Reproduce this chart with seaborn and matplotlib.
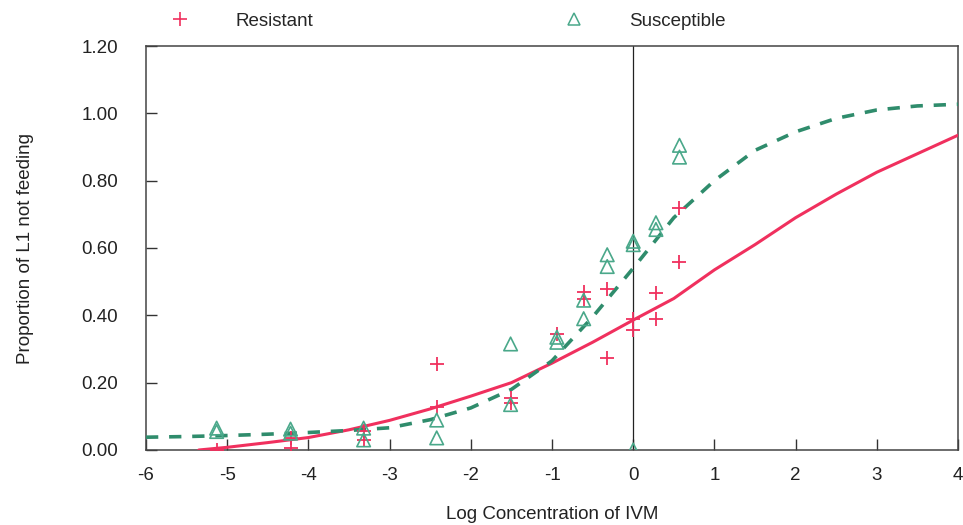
import matplotlib
matplotlib.use("Agg")
import matplotlib.pyplot as plt
from matplotlib.lines import Line2D
from matplotlib.ticker import FormatStrFormatter
import seaborn as sns

# Observed data: Resistant
res_x = [-5.13, -4.22, -4.22, -3.32, -3.32, -2.42, -2.42, -1.51, -1.51, -0.94,
         -0.61, -0.61, -0.32, -0.32, 0.0, 0.0, 0.28, 0.28, 0.57, 0.57]
res_y = [0.00, 0.035, 0.005, 0.03, 0.055, 0.255, 0.128, 0.155, 0.14, 0.345,
         0.47, 0.45, 0.478, 0.273, 0.389, 0.356, 0.467, 0.39, 0.72, 0.559]

# Observed data: Susceptible
sus_x = [-5.13, -5.13, -4.22, -4.22, -3.32, -3.32, -2.42, -2.42, -1.51, -1.51,
         -0.94, -0.94, -0.61, -0.61, -0.32, -0.32, 0.0, 0.0, 0.0, 0.28, 0.28, 0.57, 0.57]
sus_y = [0.065, 0.055, 0.062, 0.05, 0.065, 0.03, 0.089, 0.036, 0.315, 0.135,
         0.335, 0.32, 0.445, 0.39, 0.58, 0.545, 0.62, 0.61, 0.0, 0.675, 0.655, 0.905, 0.87]

# Fitted curves
res_fit_x = [-5.35, -5.0, -4.5, -4.0, -3.5, -3.0, -2.5, -2.0, -1.5, -1.0, -0.5,
             0.0, 0.5, 1.0, 1.5, 2.0, 2.5, 3.0, 3.5, 4.0]
res_fit_y = [0.0, 0.008, 0.022, 0.037, 0.06, 0.088, 0.122, 0.16, 0.2, 0.258, 0.32,
             0.386, 0.45, 0.535, 0.61, 0.69, 0.76, 0.825, 0.88, 0.935]
sus_fit_x = [-6.0, -5.5, -5.0, -4.5, -4.0, -3.5, -3.0, -2.5, -2.0, -1.5, -1.0,
             -0.5, 0.0, 0.5, 1.0, 1.5, 2.0, 2.5, 3.0, 3.5, 4.0]
sus_fit_y = [0.038, 0.04, 0.043, 0.047, 0.052, 0.058, 0.066, 0.09, 0.125, 0.18,
             0.265, 0.395, 0.54, 0.69, 0.80, 0.89, 0.945, 0.985, 1.01, 1.022, 1.027]

x_ticks = [-6, -5, -4, -3, -2, -1, 0, 1, 2, 3, 4]
y_ticks = [0.0, 0.2, 0.4, 0.6, 0.8, 1.0, 1.2]

RED = "#f0305e"
GREEN = "#2f8c6c"
GREEN_M = "#4aa88a"
FS = 13.5

sns.set_theme(style="white")
plt.rcParams["font.family"] = ["Liberation Sans", "DejaVu Sans"]
plt.rcParams["axes.unicode_minus"] = False

fig = plt.figure(figsize=(9.63, 5.25), dpi=100)
ax = fig.add_axes([146 / 963, 75 / 525, (958 - 146) / 963, (450 - 46) / 525])

ax.axvline(0, color="#222222", lw=0.9, zorder=1)

sns.lineplot(x=res_fit_x, y=res_fit_y, ax=ax, color=RED, lw=2.2, sort=False,
             errorbar=None, zorder=3)
sns.lineplot(x=sus_fit_x, y=sus_fit_y, ax=ax, color=GREEN, lw=2.6, sort=False,
             errorbar=None, zorder=3)
ax.lines[-1].set_dashes([3.4, 3.0])

ax.scatter(res_x, res_y, marker="+", s=110, color=RED, linewidths=1.3, zorder=4)
ax.scatter(sus_x, sus_y, marker="^", s=95, facecolors="none", edgecolors=GREEN_M,
           linewidths=1.2, zorder=4)

ax.set_xlim(-6, 4)
ax.set_ylim(0, 1.2)
ax.set_xticks(x_ticks)
ax.set_yticks(y_ticks)
ax.yaxis.set_major_formatter(FormatStrFormatter("%.2f"))
ax.tick_params(axis="both", which="major", bottom=True, left=True, top=False, right=False,
               direction="in", length=8, width=1, color="#333333",
               labelsize=FS, labelcolor="#222222")
ax.tick_params(axis="y", pad=20)
ax.tick_params(axis="x", pad=12)
for s in ax.spines.values():
    s.set_color("#444444")
    s.set_linewidth(1.1)

ax.set_xlabel("Log Concentration of IVM", fontsize=FS, color="#222222", labelpad=16)
ax.set_ylabel("Proportion of L1 not feeding", fontsize=FS, color="#222222", labelpad=34)

handles = [
    Line2D([], [], marker="+", linestyle="none", color=RED, markersize=10, markeredgewidth=1.2),
    Line2D([], [], marker="^", linestyle="none", markerfacecolor="none",
           markeredgecolor=GREEN_M, markersize=9, markeredgewidth=1.1),
]
fig.legend(handles, ["Resistant", "Susceptible"], loc="center left",
           bbox_to_anchor=(171 / 963, 1 - 21 / 525), ncol=2, frameon=False,
           handlelength=1.0, handletextpad=2.43, columnspacing=13.4,
           borderpad=0, borderaxespad=0, fontsize=FS)

fig.savefig("out.png", dpi=100)
